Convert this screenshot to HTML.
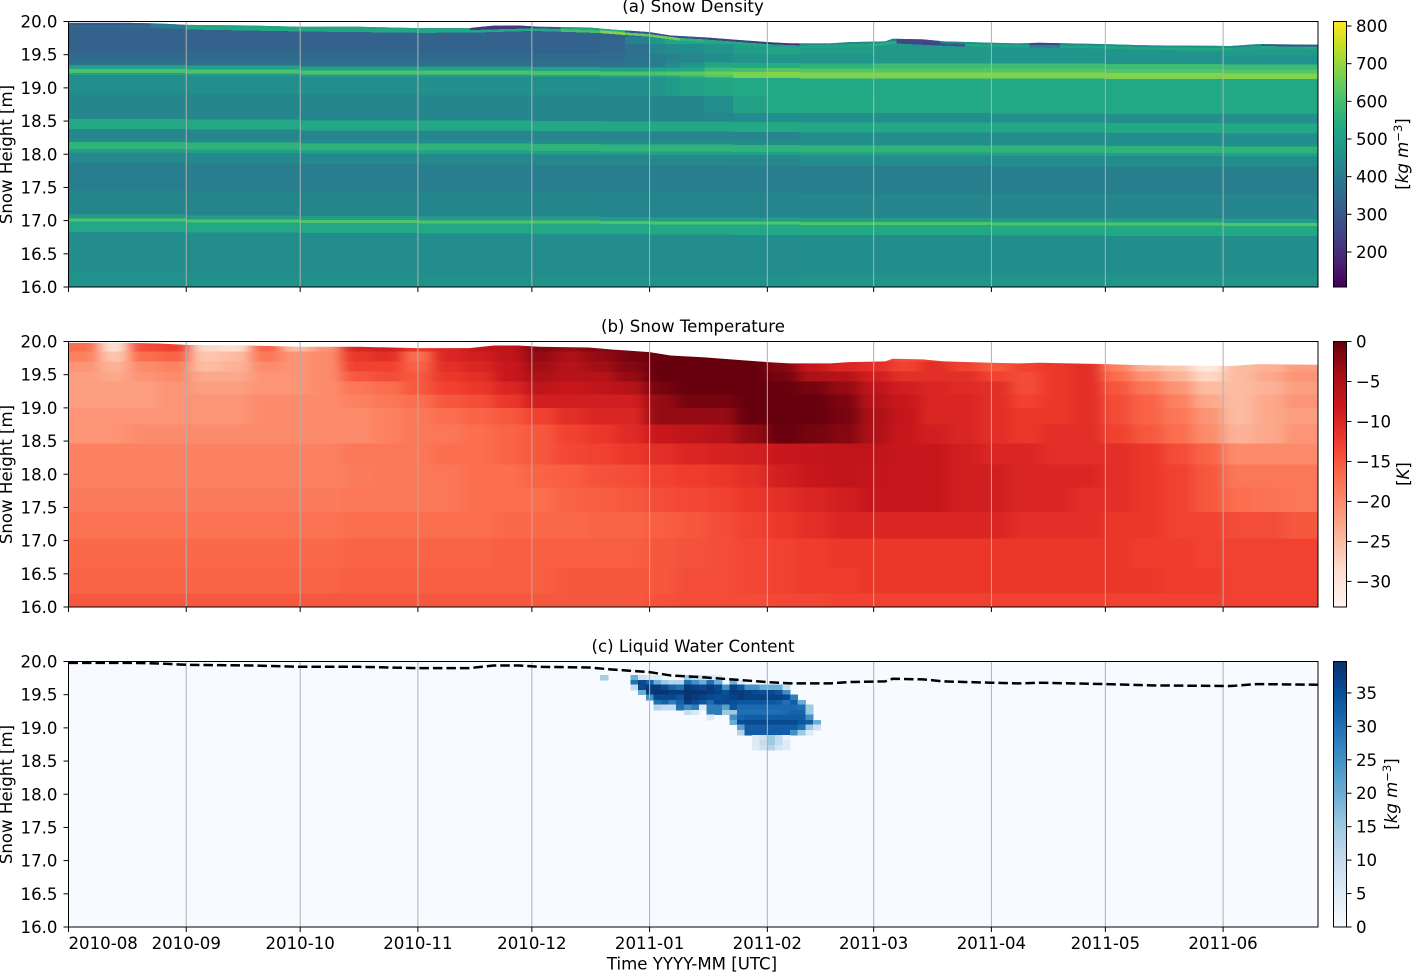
<!DOCTYPE html>
<html lang="en">
<head>
<meta charset="utf-8">
<title>Snow Density, Temperature and Liquid Water Content</title>
<style>
html,body{margin:0;padding:0;background:#fff;}
svg{display:block;}
text{font-family:"DejaVu Sans","Liberation Sans",sans-serif;font-size:16.6px;fill:#000;}
</style>
</head>
<body>
<svg id="figure" xmlns="http://www.w3.org/2000/svg" width="1412" height="973" viewBox="0 0 1412 973"></svg>
<script>
// ---- shared data ----
const monthLabels = ["2010-08","2010-09","2010-10","2010-11","2010-12","2011-01","2011-02","2011-03","2011-04","2011-05","2011-06"];
const monthDays = [0,31,61,92,122,153,184,212,243,273,304];
const heightTicks = [20,19.5,19,18.5,18,17.5,17,16.5,16];
const surfaceDays = [0,16,24,31,48,61,76.5,92,105.5,112,118.5,124,137,143,153,158.5,167.5,177,184,190,200.5,205.5,215,217,225,230.5,243,250.5,255.5,273,285,306,313,329];
const surfaceHeight = [19.98,19.98,19.97,19.95,19.94,19.92,19.92,19.90,19.90,19.94,19.94,19.92,19.91,19.88,19.84,19.79,19.76,19.72,19.69,19.67,19.67,19.69,19.70,19.74,19.73,19.70,19.68,19.67,19.68,19.66,19.64,19.63,19.66,19.65];

// ---- panel (a) density ----
const densityDays = [0,31,61,92,122,132,140,146.5,153,157,161,167.5,175,184,192.5,212,243,273,304,329];
const densityHeights = [20.2,19.92,19.80,19.70,19.55,19.42,19.345,19.285,19.225,19.195,18.92,18.67,18.53,18.38,18.23,18.185,18.08,18.03,17.87,17.46,17.09,17.03,16.985,16.83,16.23,15.9];
const densitySink = [0,0.01,0.02,0.025,0.03,0.03,0.035,0.035,0.04,0.04,0.04,0.04,0.045,0.045,0.05,0.05,0.055,0.06,0.065];
const densityGrid = [
[350,345,340,340,340,340,340,340,340,340,340,340,340,340,340,340,340,340,340],
[330,330,330,330,330,330,330,340,420,430,430,430,430,430,430,430,430,430,430],
[330,330,330,330,330,330,335,420,470,520,520,520,500,500,500,500,500,500,500],
[330,330,330,330,330,330,340,370,430,440,450,470,500,520,500,480,470,470,490],
[350,350,350,350,350,350,355,375,400,420,430,450,470,470,470,480,470,460,460],
[370,370,370,370,370,370,375,385,410,440,470,520,530,540,560,590,590,590,590],
[510,510,510,510,510,510,510,510,520,525,530,590,600,620,620,620,620,620,620],
[610,610,610,610,610,610,610,610,610,620,630,650,670,680,680,680,680,680,680],
[510,510,510,510,510,510,510,510,520,530,560,620,670,675,675,675,675,675,675],
[455,455,455,455,455,455,455,455,470,490,510,520,530,530,530,530,530,530,530],
[430,430,430,430,430,430,430,430,430,430,432,455,510,530,535,530,530,530,530],
[430,430,430,430,430,430,430,430,430,430,430,432,440,455,455,455,455,455,455],
[530,530,530,530,530,530,530,530,530,530,530,530,530,530,530,530,530,530,530],
[430,430,430,430,430,430,430,430,430,430,430,430,430,430,445,445,445,445,445],
[445,445,445,445,445,445,445,445,445,445,445,445,445,445,460,460,460,460,460],
[560,560,560,560,560,560,560,560,560,560,560,560,560,560,560,560,560,560,560],
[505,505,505,505,505,505,505,505,505,505,505,505,505,505,505,505,505,505,505],
[435,435,435,435,435,435,435,435,435,435,435,435,435,435,445,445,445,445,445],
[405,405,405,405,405,405,405,405,405,405,405,405,405,405,410,410,410,410,410],
[425,425,425,425,425,425,425,425,425,425,425,425,425,425,430,430,430,430,430],
[500,500,500,500,500,500,500,500,500,500,500,500,500,500,500,500,500,500,500],
[615,615,615,615,615,615,615,615,615,615,615,615,615,615,615,615,615,615,615],
[530,530,530,530,530,530,530,530,530,530,530,530,530,530,530,530,530,530,530],
[445,445,445,445,445,445,445,445,445,445,445,445,445,445,450,450,450,450,450],
[460,460,460,460,460,460,460,460,460,460,460,460,460,460,470,470,470,470,470]
];
const skinDays = [0,21.5,31,61,92,105.7,122,129.5,140,146.5,153,161,167.5,184,192.5,212,218,229.5,236,253,261,273,287.5,306,314,329];
const skinTop = [300,400,520,520,520,220,280,520,560,300,250,280,240,200,430,420,260,420,450,250,440,450,460,440,280];
const skinSub = [350,400,530,530,530,530,530,600,680,640,650,560,530,500,520,540,250,300,520,420,520,520,530,500,520];
const densityTicks = [200,300,400,500,600,700,800];

// ---- panel (b) temperature ----
const tempDays = [0,8,16,24,32,40,48,56,64,72,80,88,96,104,112,120,128,136,144,152,160,168,176,184,192,200,208,216,224,232,240,248,256,264,272,280,288,296,304,312,320,329];
const tempHeights = [20,19.85,19.7,19.55,19.4,19.2,19.0,18.75,18.46,18.15,17.8,17.43,17.03,16.59,16.2,16];
const tempGrid = [
[-17,-29,-14,-13,-28,-29,-16,-25,-21, -10,-9,-12,-10,-8,-7,-2,-3,-2,-1, -1,-1,-1,-1,-1,-1,-1,-12, -14,-13,-13,-14,-14,-14,-14,-20,-24,-26,-31,-25,-24,-22],
[-19,-26,-17,-16,-26,-25,-18,-21,-20, -12,-11,-17,-10,-9,-7,-3,-5,-3,-1, 0,0,0,0,0,0,0,-12, -14,-13,-13,-14,-14,-14,-14,-20,-24,-26,-31,-25,-24,-22],
[-21,-24,-20,-19,-25,-24,-20,-21,-20, -13,-13,-16,-11,-10,-8,-4,-6,-4,-2, 0,0,0,0,-2,-8,-10,-11, -13,-11,-13,-15,-13,-12,-11,-19,-24,-26,-31,-25,-24,-22],
[-22,-23,-21,-20,-23,-23,-21,-21,-20, -15,-14,-15,-12,-11,-8,-5,-6,-6,-3, 0,0,0,0,-1,-5,-6,-9, -11,-11,-11,-13,-14,-12,-11,-17,-21,-24,-28,-25,-23,-21],
[-22,-22,-22,-21,-22,-22,-21,-21,-20, -18,-17,-15,-13,-12,-10,-7,-8,-7,-6, -1,0,0,0,0,-1,-3,-7, -9,-10,-10.5,-11,-14,-12,-11,-15,-18,-21,-25,-25,-24,-22],
[-22,-22,-22,-21,-21,-21,-20,-20,-20, -19,-18,-17,-15,-14,-12,-9,-9,-9,-9, -3,-1,-1,0,0,0,-1.5,-6, -8,-10,-10,-11,-13,-12,-11,-14,-16,-19,-23,-25,-23,-21],
[-21,-21,-21,-21,-21,-21,-20,-20,-20, -20,-19,-18,-17,-16,-15,-13,-11,-10,-10, -3,-3,-3,0,0,0,-1,-5, -7.5,-10,-10,-11,-12,-12,-11,-14,-16,-18,-21,-25,-23,-22],
[-21,-21,-20,-20,-20,-20,-20,-20,-20, -20,-19,-18,-18,-17,-16,-15,-13,-12,-10.5, -8,-7,-6,-3,0,-1,-2,-5, -8,-9,-10,-11,-12,-11,-11,-13,-15,-17,-20,-24,-23,-21],
[-19,-19,-19,-19,-19,-19,-19,-19,-19, -18,-18,-18,-17,-17,-16,-15,-13.5,-13,-12, -11,-10,-9.5,-9,-8,-7.5,-7,-7, -8,-8,-9,-10,-10,-11,-11,-11,-12,-14,-16,-20,-20,-20],
[-19,-19,-19,-19,-19,-19,-19,-19,-19, -18.5,-18,-18,-18,-17,-17,-16,-15.5,-14.5,-14, -13,-12.5,-12,-11,-9,-8,-7,-7.5, -8,-8,-9,-9,-10,-10,-10,-11,-12,-13,-15,-18,-18,-18],
[-18.5,-18.5,-18.5,-18.5,-18.5,-18.5,-18.5,-18.5,-18.5, -18,-18,-18,-18,-17,-17,-17,-16,-15.5,-15, -14,-13.5,-13,-12,-11,-10,-9,-8, -8,-8,-9,-9,-10,-10,-11,-11,-12,-13,-15,-17,-17.5,-18],
[-17.5,-17.5,-17.5,-17.5,-17.5,-17.5,-17.5,-17.5,-17.5, -17,-17,-17,-17,-17,-16.5,-16.5,-16.5,-16,-16, -15.5,-15,-14,-13,-12,-11,-10,-10, -10,-10,-10,-10,-11,-11,-11,-12,-12,-13,-13,-14,-14,-15],
[-16.5,-16.5,-16.5,-16.5,-16.5,-16.5,-16.5,-16.5,-16.5, -16,-16,-16,-16,-16,-15.5,-15.5,-15.5,-15.5,-15.5, -15,-14.5,-14,-13.5,-13,-12.5,-12,-12, -12,-12,-12,-12,-12,-12,-12,-12,-12.5,-12.5,-13,-13,-13,-13],
[-16,-16,-16,-16,-16,-16,-16,-16,-16, -15.5,-15.5,-15.5,-15.5,-15.5,-15.5,-15.5,-15,-15,-15, -15,-14,-14,-13.5,-13,-12.5,-12.5,-12, -12,-12,-12,-12,-12,-12,-12,-12,-12,-12.5,-12.5,-13,-13,-13],
[-15,-15,-15,-15,-15,-15,-15,-15,-15, -15,-15,-15,-15,-15,-15,-15,-15,-15,-15, -14.5,-14,-14,-14,-13.5,-13.5,-13,-13, -13,-13,-13,-13,-13,-13,-13,-13,-13,-13,-13,-13,-13,-13]
];
const tempTicks = [0,-5,-10,-15,-20,-25,-30];

// ---- panel (c) liquid water ----
const lwcDays = [140,142,144,146,148,150,152,154,156,158,160,162,164,166,168,170,172,174,176,178,180,182,184,186,188,190,192,194,196,198];
const lwcHeights = [19.80,19.72,19.65,19.57,19.50,19.42,19.35,19.27,19.20,19.12,19.05,18.97,18.89,18.82,18.74,18.67];
const lwcGrid = [
[14,0,0,0,20,8,5,5,0,0,0,15,10,10,5,5,0,0,0,0,0,0,0,0,0,0,0,0,0],
[0,0,0,0,30,36,32,20,15,12,12,30,25,20,30,20,0,20,5,0,0,0,0,0,0,0,0,0,0],
[0,0,0,0,10,36,38,38,36,32,30,38,37,36,38,36,25,37,34,25,25,20,20,20,10,0,0,0,0],
[0,0,0,0,0,20,38,39,39,38,38,39,39,39,38,37,35,38,38,37,36,35,36,34,25,0,0,0,0],
[0,0,0,0,0,0,25,36,36,36,34,39,38,37,36,35,36,37,38,37,37,37,37,37,36,28,0,0,0],
[0,0,0,0,0,0,0,30,32,28,32,38,36,34,31,36,36,35,34,34,34,34,34,33,30,33,20,0,0],
[0,0,0,0,0,0,0,12,10,10,30,25,28,5,28,28,22,34,31,31,31,31,31,31,31,31,30,15,0],
[0,0,0,0,0,0,0,0,0,0,0,10,5,0,28,28,15,15,30,30,30,30,30,30,31,32,32,15,0],
[0,0,0,0,0,0,0,0,0,0,0,0,0,0,5,0,0,25,32,33,33,33,33,33,33,33,33,25,0],
[0,0,0,0,0,0,0,0,0,0,0,0,0,0,0,0,0,20,35,36,36,36,36,36,36,36,34,33,20],
[0,0,0,0,0,0,0,0,0,0,0,0,0,0,0,0,0,0,22,33,33,33,33,33,33,33,30,15,8],
[0,0,0,0,0,0,0,0,0,0,0,0,0,0,0,0,0,0,12,33,33,33,33,33,33,25,15,5,0],
[0,0,0,0,0,0,0,0,0,0,0,0,0,0,0,0,0,0,0,0,5,8,15,10,3,0,0,0,0],
[0,0,0,0,0,0,0,0,0,0,0,0,0,0,0,0,0,0,0,0,5,10,15,10,5,0,0,0,0],
[0,0,0,0,0,0,0,0,0,0,0,0,0,0,0,0,0,0,0,0,5,8,12,7,5,0,0,0,0]
];
const lwcTicks = [0,5,10,15,20,25,30,35];

// ---- colour maps ----
const viridisStops = ["#440154","#482475","#414487","#355f8d","#2a788e","#21918c","#22a884","#44bf70","#7ad151","#bddf26","#fde725"];
const redsStops = ["#fff5f0","#fee0d2","#fcbba1","#fc9272","#fb6a4a","#ef3b2c","#cb181d","#a50f15","#67000d"];
const bluesStops = ["#f7fbff","#deebf7","#c6dbef","#9ecae1","#6baed6","#4292c6","#2171b5","#08519c","#08306b"];

function rgb(h){return [parseInt(h.slice(1,3),16),parseInt(h.slice(3,5),16),parseInt(h.slice(5,7),16)];}
function cmap(stops,t){
  t=Math.max(0,Math.min(1,t));
  const p=t*(stops.length-1),i=Math.min(Math.floor(p),stops.length-2),f=p-i;
  const a=rgb(stops[i]),b=rgb(stops[i+1]);
  return "rgb("+a.map((v,k)=>Math.round(v+(b[k]-v)*f)).join(",")+")";
}

// ---- axis functions ----
const NS="http://www.w3.org/2000/svg";
const svg=document.getElementById("figure");
const panelTops=[21.5,341.5,661.5];
const panelHeight=265.5;
function xAt(day){return 68.5+3.798*day;}
function yAt(top,h){return top+(20-h)*panelHeight/4;}
function surfaceAt(day){
  for(let i=1;i<surfaceDays.length;i++){
    if(day<=surfaceDays[i]){
      const f=(day-surfaceDays[i-1])/(surfaceDays[i]-surfaceDays[i-1]);
      return surfaceHeight[i-1]+(surfaceHeight[i]-surfaceHeight[i-1])*f;
    }
  }
  return surfaceHeight[surfaceHeight.length-1];
}
function make(tag,attrs,parent){
  const el=document.createElementNS(NS,tag);
  for(const k in attrs)el.setAttribute(k,attrs[k]);
  (parent||svg).appendChild(el);
  return el;
}
const defs=make("defs",{});

// ---- clip paths ----
function surfaceClip(id,top){
  const cp=make("clipPath",{id:id},defs);
  const pts=[[xAt(0),top+panelHeight]];
  surfaceDays.forEach((d,i)=>pts.push([xAt(d),Math.max(top,yAt(top,surfaceHeight[i]))]));
  pts.push([1318,top+panelHeight]);
  make("polygon",{points:pts.map(p=>p.join(",")).join(" ")},cp);
}
surfaceClip("clip-a",panelTops[0]);
surfaceClip("clip-b",panelTops[1]);
const smooth=make("filter",{id:"smooth-b",filterUnits:"userSpaceOnUse",x:0,y:300,width:1412,height:340,"color-interpolation-filters":"sRGB"},defs);
make("feGaussianBlur",{stdDeviation:"7 0"},smooth);

// ---- heat maps ----
function densityT(v){return (v-107)/705;}
function tempT(v){return (v+33.2)/33.2;}
function lwcT(v){return v/39.7;}

// panel a
const gA=make("g",{"clip-path":"url(#clip-a)","shape-rendering":"crispEdges"});


densityGrid.forEach((row,r)=>{
  row.forEach((v,c)=>{
    const y0=yAt(panelTops[0],densityHeights[r]-densitySink[c]);
    const y1=yAt(panelTops[0],densityHeights[r+1]-densitySink[c]);
    const cell=make("rect",{x:xAt(densityDays[c]),y:y0,width:xAt(densityDays[c+1])-xAt(densityDays[c])+0.5,height:Math.min(y1,panelTops[0]+panelHeight)-y0+0.5,fill:cmap(viridisStops,densityT(v))},gA);
    
    
  });
});
skinTop.forEach((v,i)=>{
  const d0=skinDays[i],d1=skinDays[i+1];
  const draw=(a,b,val)=>{
    const pts=[[xAt(d0),yAt(panelTops[0],surfaceAt(d0)-a)],[xAt(d1),yAt(panelTops[0],surfaceAt(d1)-a)],[xAt(d1),yAt(panelTops[0],surfaceAt(d1)-b)],[xAt(d0),yAt(panelTops[0],surfaceAt(d0)-b)]];
    return make("polygon",{points:pts.map(p=>p.join(",")).join(" "),fill:cmap(viridisStops,densityT(val))},gA);
  };
  const top=draw(-0.02,0.03,v);
  
  
  const sub=draw(0.03,0.07,skinSub[i]);
  
  
});

// panel b
const gBclip=make("g",{"clip-path":"url(#clip-b)"});


const gB=make("g",{filter:"url(#smooth-b)","shape-rendering":"crispEdges"},gBclip);


tempGrid.forEach((row,r)=>{
  const last=row.length-1;
  row.forEach((v,c)=>{
    const y0=yAt(panelTops[1],tempHeights[r]);
    const y1=yAt(panelTops[1],tempHeights[r+1]);
    const pad=c===0?40:0;
    const padEnd=c===last?40:0;
    const cell=make("rect",{x:xAt(tempDays[c])-pad,y:y0,width:xAt(tempDays[c+1])-xAt(tempDays[c])+0.5+pad+padEnd,height:y1-y0+0.5,fill:cmap(redsStops,tempT(v))},gB);
    
    
  });
});

// panel c
const bgC=make("rect",{x:68.5,y:panelTops[2],width:1249.5,height:panelHeight,fill:cmap(bluesStops,0)});


const gC=make("g",{"shape-rendering":"crispEdges"});


lwcGrid.forEach((row,r)=>{
  row.forEach((v,c)=>{
    if(v<=0)return;
    const y0=yAt(panelTops[2],lwcHeights[r]);
    const y1=yAt(panelTops[2],lwcHeights[r+1]);
    const cell=make("rect",{x:xAt(lwcDays[c]),y:y0,width:xAt(lwcDays[c+1])-xAt(lwcDays[c])+0.5,height:y1-y0+0.5,fill:cmap(bluesStops,lwcT(v))},gC);
    
    
  });
});

// ---- axes decorations ----
const panelTitles=["(a) Snow Density","(b) Snow Temperature","(c) Liquid Water Content"];
const panelKeys=["density","temperature","liquid-water"];
panelTops.forEach((top,p)=>{
  monthDays.forEach((d,i)=>{
    if(i>0){
      const grid=make("line",{x1:xAt(d),x2:xAt(d),y1:top,y2:top+panelHeight,stroke:"#b0b0b0","stroke-width":1});
      
      
    }
    const tick=make("line",{x1:xAt(d),x2:xAt(d),y1:top+panelHeight,y2:top+panelHeight+5,stroke:"#000","stroke-width":1});
    
    
    if(p===2){
      const lab=make("text",{x:xAt(d),y:949,"text-anchor":i===0?"start":"middle"});
      lab.textContent=monthLabels[i];
      
      
    }
  });
  heightTicks.forEach(h=>{
    const y=yAt(top,h);
    const tick=make("line",{x1:63.5,x2:68.5,y1:y,y2:y,stroke:"#000","stroke-width":1});
    
    
    const lab=make("text",{x:57.5,y:y+6,"text-anchor":"end"});
    lab.textContent=h.toFixed(1);
    
    
  });
  const frame=make("rect",{x:68.5,y:top,width:1249.5,height:panelHeight,fill:"none",stroke:"#000","stroke-width":1});
  
  
  const title=make("text",{x:693,y:top-9.5,"text-anchor":"middle"});
  title.textContent=panelTitles[p];
  
  
  const yl=make("text",{x:0,y:0,"text-anchor":"middle",transform:"translate(12,"+(top+133)+") rotate(-90)"});
  yl.textContent="Snow Height [m]";
  
  
});

// surface dashed line in panel c
const surfaceLine=make("polyline",{points:surfaceDays.map((d,i)=>xAt(d)+","+yAt(panelTops[2],surfaceHeight[i])).join(" "),fill:"none",stroke:"#000","stroke-width":2.5,"stroke-dasharray":"9.5 4"});



const xTitle=make("text",{x:692,y:969.5,"text-anchor":"middle"});
xTitle.textContent="Time YYYY-MM [UTC]";



// ---- colour bars ----
function colorbar(id,top,stops,tFn,ticks,fmt,name){
  const grad=make("linearGradient",{id:id,x1:0,y1:1,x2:0,y2:0},defs);
  stops.forEach((s,i)=>make("stop",{offset:i/(stops.length-1),"stop-color":s},grad));
  const bar=make("rect",{x:1333.5,y:top,width:13,height:panelHeight,fill:"url(#"+id+")",stroke:"#000","stroke-width":1});
  
  
  ticks.forEach(v=>{
    const y=top+panelHeight*(1-tFn(v));
    const t=make("line",{x1:1346.5,x2:1351.5,y1:y,y2:y,stroke:"#000","stroke-width":1});
    
    
    const l=make("text",{x:1356,y:y+6});
    l.textContent=fmt(v);
    
    
  });
}
const plainLabel=v=>String(v).replace("-","\u2212");
colorbar("grad-density",panelTops[0],viridisStops,densityT,densityTicks,plainLabel,"density");
colorbar("grad-temp",panelTops[1],redsStops,tempT,tempTicks,plainLabel,"temperature");
colorbar("grad-lwc",panelTops[2],bluesStops,lwcT,lwcTicks,plainLabel,"liquid-water");

function unitLabel(x,cy,name){
  const t=make("text",{x:0,y:0,"text-anchor":"middle",transform:"translate("+x+","+cy+") rotate(-90)"});
  
  
  const a=make("tspan",{},t);a.textContent="[";
  const b=make("tspan",{"font-style":"italic"},t);b.textContent="kg m";
  const c=make("tspan",{dy:-6,"font-size":"11.5px"},t);c.textContent="\u22123";
  const d=make("tspan",{dy:6},t);d.textContent="]";
}
unitLabel(1408,154,"density-colorbar-label");
unitLabel(1397,794,"liquid-water-colorbar-label");
const kLabel=make("text",{x:0,y:0,"text-anchor":"middle",transform:"translate(1409,474) rotate(-90)"});


const k1=make("tspan",{},kLabel);k1.textContent="[";
const k2=make("tspan",{"font-style":"italic"},kLabel);k2.textContent="K";
const k3=make("tspan",{},kLabel);k3.textContent="]";
</script>
</body>
</html>
